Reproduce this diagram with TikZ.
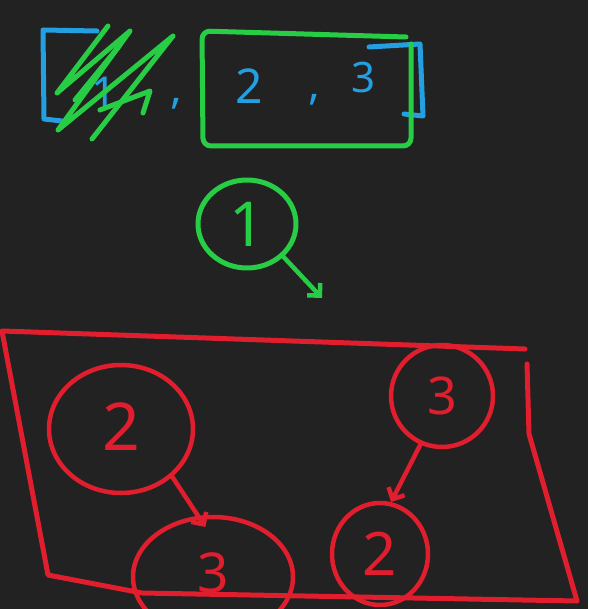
\documentclass[tikz,border=0pt]{standalone}
\usepackage{fontspec}
\setmainfont{Noto Sans}
\usetikzlibrary{shapes.geometric,arrows.meta}
\definecolor{bg}{RGB}{34,34,34}
\definecolor{pgreen}{RGB}{40,205,70}
\definecolor{pblue}{RGB}{35,160,225}
\definecolor{pred}{RGB}{225,30,45}
\begin{document}
\begin{tikzpicture}[x=1pt,y=-1pt, line cap=round, line join=round,
  stroke/.style={line width=5pt},
  rcirc/.style={ellipse, draw=pred, line width=4.5pt, inner sep=0pt, text=pred},
  arr/.style={-{Straight Barb[length=9pt,width=18pt]}, line width=4.5pt},
  fs/.style={font=\fontsize{#1}{#1}\selectfont}]
\fill[bg] (0,0) rectangle (588,609);
\useasboundingbox (0,0) rectangle (588,609);
\clip (0,0) rectangle (588,609);
% list [1, 2, 3]
\draw[pblue, stroke] (97,31) -- (43,30) -- (44,119) -- (62,121);
\node[text=pblue, fs=44, inner sep=0pt] (b1) at (104,93) {1};
\draw[pgreen, stroke] (108,26) -- (57,93) -- (130,31) -- (58,130) -- (173,36) -- (92,139);
\draw[pgreen, stroke] (100,110) -- (150,91) -- (143,113);
\draw[pgreen, stroke] (75,100) -- (120,45);
\node[text=pblue, fs=44, inner sep=0pt] (c1) at (176,104) {,};
\node[text=pblue, fs=48, inner sep=0pt] (b2) at (249,86) {2};
\node[text=pblue, fs=44, inner sep=0pt] (c2) at (314,100) {,};
\node[text=pblue, fs=42, inner sep=0pt] (b3) at (364,78) {3};
\draw[pblue, stroke] (369,47) -- (420,44) -- (423,116) -- (404,114);
\draw[pgreen, stroke, rounded corners=8pt] (406,37) -- (202,31) -- (203,146) -- (411,146) -- (411,44);
% node 1
\node[ellipse, draw=pgreen, line width=5pt, inner sep=0pt, minimum width=98pt, minimum height=88pt, text=pgreen, fs=62] (g1) at (247,224) {1};
\coordinate (gend) at (322,298);
\draw[pgreen, arr] (g1.-42) -- (gend);
% red frame
\draw[pred, stroke] (525,349) -- (2,331) -- (48,575) -- (142,593) -- (577,601) -- (529,434) -- (527,364);
% red nodes
\node[rcirc, minimum width=144pt, minimum height=128pt, fs=66] (A) at (121,429) {\raisebox{4pt}{2}};
\node[rcirc, minimum width=160pt, minimum height=120pt, fs=55] (B) at (213,577) {\raisebox{8pt}{3}};
\node[rcirc, minimum width=102pt, minimum height=102pt, fs=52] (C) at (442,396) {3};
\node[rcirc, minimum width=96pt, minimum height=102pt, fs=60] (D) at (380,554) {2};
\draw[pred, arr] (A.-43) -- ([yshift=-12pt]B.97);
\draw[pred, arr] (C.-114) -- (D.78);
\end{tikzpicture}
\end{document}
